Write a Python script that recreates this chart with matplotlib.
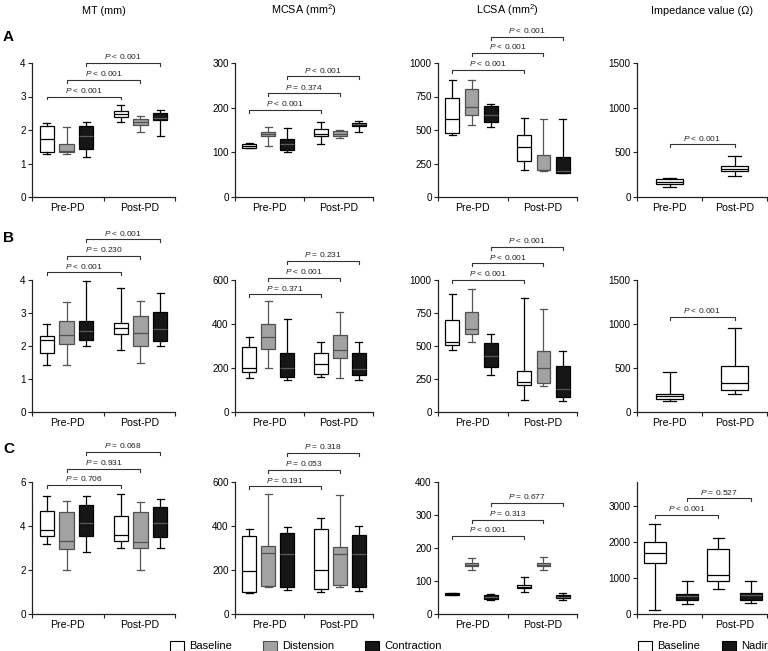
import matplotlib.pyplot as plt
from matplotlib.patches import Patch

plt.rcParams['font.family'] = ['Liberation Sans', 'DejaVu Sans']
plt.rcParams['mathtext.fontset'] = 'custom'
plt.rcParams['mathtext.rm'] = 'Liberation Sans'
plt.rcParams['mathtext.it'] = 'Liberation Sans:italic'

groups = ['Pre-PD', 'Post-PD']
col_titles = ['MT (mm)', 'MCSA (mm$^{2}$)', 'LCSA (mm$^{2}$)', 'Impedance value (\u03a9)']
row_labels = ['A', 'B', 'C']

# box stats: [whisker low, Q1, median, Q3, whisker high]
# order: Pre baseline, Pre distension, Pre contraction, Post baseline, Post distension, Post contraction
a_mt = [[1.27, 1.35, 1.72, 2.13, 2.2], [1.27, 1.33, 1.38, 1.57, 2.1], [1.18, 1.42, 1.82, 2.13, 2.23],
        [2.25, 2.4, 2.47, 2.57, 2.75], [1.95, 2.15, 2.25, 2.33, 2.43], [1.83, 2.3, 2.35, 2.5, 2.6]]
a_mcsa = [[109, 110, 114, 118, 122], [115, 136, 141, 146, 157], [101, 105, 118, 129, 154],
          [118, 136, 142, 152, 169], [131, 137, 142, 148, 151], [146, 160, 163, 166, 171]]
a_lcsa = [[462, 475, 582, 737, 875], [537, 610, 672, 805, 872], [520, 557, 612, 680, 697],
          [205, 267, 372, 460, 587], [192, 200, 205, 317, 582], [178, 182, 195, 297, 582]]
a_imp = [[112, 150, 169, 206, 217], [232, 292, 319, 345, 461]]

b_mt = [[1.42, 1.78, 2.17, 2.3, 2.67], [1.42, 2.07, 2.33, 2.77, 3.32], [2.0, 2.17, 2.45, 2.77, 3.97],
        [1.88, 2.35, 2.55, 2.7, 3.75], [1.5, 2.0, 2.4, 2.9, 3.35], [2.0, 2.15, 2.52, 3.02, 3.6]]
b_mcsa = [[154, 184, 200, 295, 340], [202, 286, 340, 399, 505], [145, 157, 200, 270, 423],
          [157, 172, 218, 267, 320], [154, 245, 280, 351, 453], [145, 166, 196, 270, 320]]
b_lcsa = [[471, 504, 534, 698, 894], [529, 590, 627, 756, 932], [277, 338, 421, 526, 590],
          [93, 207, 227, 312, 861], [194, 219, 333, 463, 781], [81, 113, 176, 350, 463]]
b_imp = [[128, 147, 178, 208, 453], [204, 246, 329, 525, 952]]

c_mt = [[3.2, 3.54, 3.84, 4.67, 5.37], [2.0, 2.94, 3.33, 4.64, 5.14], [2.83, 3.54, 4.12, 4.97, 5.37],
        [2.99, 3.32, 3.59, 4.46, 5.47], [2.0, 3.02, 3.29, 4.64, 5.1], [2.99, 3.51, 4.12, 4.87, 5.22]]
c_mcsa = [[95, 98, 194, 353, 388], [121, 129, 277, 307, 545], [111, 121, 273, 368, 395],
          [100, 115, 201, 388, 436], [121, 133, 273, 303, 542], [106, 121, 273, 360, 398]]
c_lcsa = [[57, 59, 61, 63, 65], [132, 144, 149, 154, 171], [41, 46, 53, 58, 61],
          [66, 78, 83, 88, 112], [132, 144, 150, 156, 172], [41, 48, 53, 58, 63]]
# order: Pre baseline, Pre nadir, Post baseline, Post nadir
c_imp = [[102, 1412, 1689, 1994, 2492], [286, 378, 489, 563, 905],
         [692, 905, 1071, 1800, 2104], [305, 397, 517, 581, 905]]

# y axis ticks
yticks = {
    'a_mt': [0, 1, 2, 3, 4], 'a_mcsa': [0, 100, 200, 300], 'a_lcsa': [0, 250, 500, 750, 1000], 'a_imp': [0, 500, 1000, 1500],
    'b_mt': [0, 1, 2, 3, 4], 'b_mcsa': [0, 200, 400, 600], 'b_lcsa': [0, 250, 500, 750, 1000], 'b_imp': [0, 500, 1000, 1500],
    'c_mt': [0, 2, 4, 6], 'c_mcsa': [0, 200, 400, 600], 'c_lcsa': [0, 100, 200, 300, 400], 'c_imp': [0, 1000, 2000, 3000],
}
ytop = {'c_imp': 3670}

# comparison brackets: (box i, box j, height, label)
brackets = {
    'a_mt': [(0, 3, 3.0, '$P$ < 0.001'), (1, 4, 3.5, '$P$ < 0.001'), (2, 5, 4.0, '$P$ < 0.001')],
    'a_mcsa': [(0, 3, 195, '$P$ < 0.001'), (1, 4, 232, '$P$ = 0.374'), (2, 5, 270, '$P$ < 0.001')],
    'a_lcsa': [(0, 3, 950, '$P$ < 0.001'), (1, 4, 1075, '$P$ < 0.001'), (2, 5, 1197, '$P$ < 0.001')],
    'a_imp': [(0, 1, 590, '$P$ < 0.001')],
    'b_mt': [(0, 3, 4.23, '$P$ < 0.001'), (1, 4, 4.73, '$P$ = 0.230'), (2, 5, 5.23, '$P$ < 0.001')],
    'b_mcsa': [(0, 3, 535, '$P$ = 0.371'), (1, 4, 610, '$P$ < 0.001'), (2, 5, 686, '$P$ = 0.231')],
    'b_lcsa': [(0, 3, 1000, '$P$ < 0.001'), (1, 4, 1126, '$P$ < 0.001'), (2, 5, 1252, '$P$ < 0.001')],
    'b_imp': [(0, 1, 1084, '$P$ < 0.001')],
    'c_mt': [(0, 3, 5.88, '$P$ = 0.706'), (1, 4, 6.6, '$P$ = 0.931'), (2, 5, 7.36, '$P$ = 0.068')],
    'c_mcsa': [(0, 3, 580, '$P$ = 0.191'), (1, 4, 656, '$P$ = 0.053'), (2, 5, 732, '$P$ = 0.318')],
    'c_lcsa': [(0, 3, 236, '$P$ < 0.001'), (1, 4, 286, '$P$ = 0.313'), (2, 5, 337, '$P$ = 0.677')],
    'c_imp': [(0, 2, 2750, '$P$ < 0.001'), (1, 3, 3212, '$P$ = 0.527')],
}

panels = [['a_mt', 'a_mcsa', 'a_lcsa', 'a_imp'],
          ['b_mt', 'b_mcsa', 'b_lcsa', 'b_imp'],
          ['c_mt', 'c_mcsa', 'c_lcsa', 'c_imp']]
data = {'a_mt': a_mt, 'a_mcsa': a_mcsa, 'a_lcsa': a_lcsa, 'a_imp': a_imp,
        'b_mt': b_mt, 'b_mcsa': b_mcsa, 'b_lcsa': b_lcsa, 'b_imp': b_imp,
        'c_mt': c_mt, 'c_mcsa': c_mcsa, 'c_lcsa': c_lcsa, 'c_imp': c_imp}

WHITE, GREY, BLACK = 'white', '#a2a2a2', '#161616'
style = {WHITE: ('black', 'black', 'black'),   # edge, median, whisker
         GREY: ('#505050', '#505050', '#555555'),
         BLACK: ('black', '#5a5a5a', 'black')}

W, H = 768, 651
fig = plt.figure(figsize=(W / 100, H / 100), dpi=100)

col_px = [(32, 175), (235, 373), (438, 577), (637, 767)]
row_px = [(63, 197), (280, 412), (482, 614)]

for r, row in enumerate(panels):
    for c, key in enumerate(row):
        x0, x1 = col_px[c]
        yt, yb = row_px[r]
        ax = fig.add_axes([x0 / W, 1 - yb / H, (x1 - x0) / W, (yb - yt) / H])
        boxes = data[key]
        if c < 3:
            pos = [0, 1, 2, 3.75, 4.75, 5.75]
            xlim = (-0.75, 6.5)
            sep = 2.875
            width = 0.72
            fills = [WHITE, GREY, BLACK] * 2
        elif len(boxes) == 2:
            pos = [1, 3]
            xlim = (0, 4)
            sep = 2
            width = 0.83
            fills = [WHITE, WHITE]
        else:
            pos = [0.55, 1.55, 2.5, 3.5]
            xlim = (0, 4)
            sep = 2
            width = 0.68
            fills = [WHITE, BLACK, WHITE, BLACK]
        stats = [dict(whislo=b[0], q1=b[1], med=b[2], q3=b[3], whishi=b[4]) for b in boxes]
        art = ax.bxp(stats, positions=pos, widths=width, patch_artist=True, showfliers=False,
                     capwidths=width * 0.5)
        for i, f in enumerate(fills):
            ec, mc, wc = style[f]
            art['boxes'][i].set(facecolor=f, edgecolor=ec, linewidth=0.9)
            art['medians'][i].set(color=mc, linewidth=0.9)
            for ln in art['whiskers'][2 * i:2 * i + 2] + art['caps'][2 * i:2 * i + 2]:
                ln.set(color=wc, linewidth=0.9)

        top = ytop.get(key, yticks[key][-1])
        ax.set_ylim(0, top)
        ax.set_xlim(*xlim)
        ax.set_yticks(yticks[key])
        ax.set_xticks([xlim[0], sep, xlim[1]])
        ax.set_xticklabels([])
        ax.set_xticks([(xlim[0] + sep) / 2, (sep + xlim[1]) / 2], minor=True)
        ax.set_xticklabels(groups, minor=True, fontsize=7.6)
        ax.tick_params(axis='x', which='minor', length=0, pad=4)
        ax.tick_params(axis='both', which='major', length=3, width=0.8, color='#222222', labelsize=7.1, pad=1.5)
        ax.spines['top'].set_visible(False)
        ax.spines['right'].set_visible(False)
        for s in ('left', 'bottom'):
            ax.spines[s].set_linewidth(0.9)
            ax.spines[s].set_color('#222222')

        d = 0.022 * top
        for i, j, y, txt in brackets[key]:
            xa, xb = pos[i], pos[j]
            ax.plot([xa, xa, xb, xb], [y - d, y, y, y - d], color='#333333', lw=0.8, clip_on=False)
            ax.annotate(txt, xy=((xa + xb) / 2, y), xytext=(0, 1.2), textcoords='offset points',
                        ha='center', va='bottom', fontsize=6, color='#222222', annotation_clip=False)

for c, t in enumerate(col_titles):
    x0, x1 = col_px[c]
    fig.text((x0 + x1) / 2 / W, 1 - 10.5 / H, t, ha='center', va='center', fontsize=7.8)

for r, lab in enumerate(row_labels):
    fig.text(3 / W, 1 - [37, 238, 449][r] / H, lab, ha='left', va='center', fontsize=11, fontweight='bold')

leg1 = [Patch(facecolor=WHITE, edgecolor='black', lw=0.8), Patch(facecolor=GREY, edgecolor='#505050', lw=0.8),
        Patch(facecolor=BLACK, edgecolor='black', lw=0.8)]
fig.legend(leg1, ['Baseline', 'Distension', 'Contraction'], ncol=3, loc='center left',
           bbox_to_anchor=(170 / W, 1 - 646 / H), frameon=False, fontsize=8, borderpad=0, borderaxespad=0,
           handlelength=1.25, handleheight=1.0, handletextpad=0.5, columnspacing=2.75)
leg2 = [Patch(facecolor=WHITE, edgecolor='black', lw=0.8), Patch(facecolor=BLACK, edgecolor='black', lw=0.8)]
fig.legend(leg2, ['Baseline', 'Nadir'], ncol=2, loc='center left',
           bbox_to_anchor=(638 / W, 1 - 646 / H), frameon=False, fontsize=8, borderpad=0, borderaxespad=0,
           handlelength=1.25, handleheight=1.0, handletextpad=0.5, columnspacing=1.95)

fig.savefig('out.png', dpi=100)
